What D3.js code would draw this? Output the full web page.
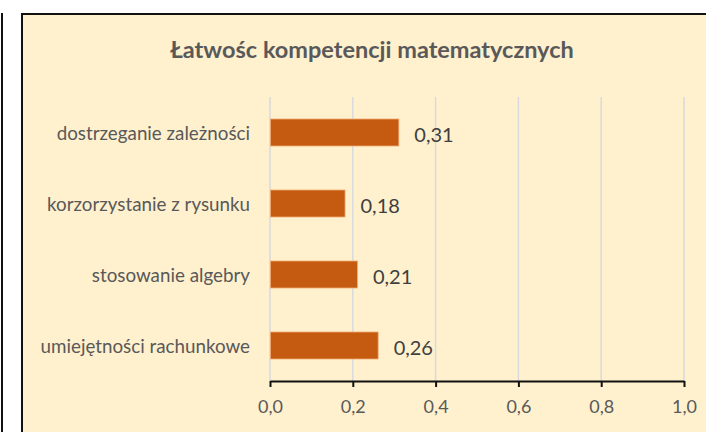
<!DOCTYPE html>
<html>
<head>
<meta charset="utf-8">
<script src="https://cdn.jsdelivr.net/npm/d3@7"></script>
<style>
  body { margin: 0; background: #fff; }
  svg { display: block; font-family: Lato, "Open Sans", sans-serif; }
</style>
</head>
<body>
<svg width="706" height="432"></svg>
<script>
// dane wykresu
var categories = ["dostrzeganie zależności", "korzorzystanie z rysunku", "stosowanie algebry", "umiejętności rachunkowe"];
var values = [0.31, 0.18, 0.21, 0.26];
var ticks = [0, 0.2, 0.4, 0.6, 0.8, 1.0];
var title = "Łatwośc kompetencji matematycznych";

var svg = d3.select("svg"),
  width = +svg.attr("width"),
  height = +svg.attr("height");

var fmt = function (v) { return d3.format(".1f")(v).replace(".", ","); };
var fmt2 = function (v) { return d3.format(".2f")(v).replace(".", ","); };

// kawałek sąsiedniej ramki po lewej
svg.append("line")
  .attr("x1", 2).attr("x2", 2).attr("y1", 13).attr("y2", height + 2)
  .attr("stroke", "#111").attr("stroke-width", 2);

// ramka wykresu
svg.append("rect")
  .attr("x", 22).attr("y", 14)
  .attr("width", 720).attr("height", 440)
  .attr("fill", "#FFF0CE")
  .attr("stroke", "#111").attr("stroke-width", 2);

svg.append("text")
  .attr("x", 372).attr("y", 58)
  .attr("text-anchor", "middle")
  .style("font-size", "23.5px").style("font-weight", "bold")
  .attr("fill", "#595959")
  .text(title);

var x = d3.scaleLinear().domain([0, 1]).range([270, 684]);
var y = d3.scaleBand().domain(categories).range([97, 381])
  .paddingInner(0.62).paddingOuter(0.31);

// linie siatki
svg.append("g").selectAll("line")
  .data(ticks)
  .enter().append("line")
  .attr("x1", function (d) { return x(d); })
  .attr("x2", function (d) { return x(d); })
  .attr("y1", 97).attr("y2", 381)
  .attr("stroke", "#D9DADF").attr("stroke-width", 1.5);

// słupki
svg.append("g").selectAll("rect")
  .data(values)
  .enter().append("rect")
  .attr("x", x(0) + 0.5)
  .attr("y", function (d, i) { return y(categories[i]); })
  .attr("width", function (d) { return x(d) - x(0); })
  .attr("height", y.bandwidth())
  .attr("fill", "#C55A11")
  .attr("stroke", "#F0A870").attr("stroke-width", 0.8);

// etykiety wartości
svg.append("g").selectAll("text")
  .data(values)
  .enter().append("text")
  .attr("x", function (d) { return x(d) + 16; })
  .attr("y", function (d, i) { return y(categories[i]) + y.bandwidth() / 2 + 9; })
  .style("font-size", "20px")
  .attr("fill", "#404040")
  .text(function (d) { return fmt2(d); });

// etykiety kategorii
svg.append("g").selectAll("text")
  .data(categories)
  .enter().append("text")
  .attr("x", 250)
  .attr("y", function (d) { return y(d) + y.bandwidth() / 2 + 7; })
  .attr("text-anchor", "end")
  .style("font-size", "18.8px")
  .attr("fill", "#595959")
  .text(function (d) { return d; });

// oś X
var axis = svg.append("g")
  .attr("transform", "translate(0,381)")
  .call(d3.axisBottom(x).tickValues(ticks).tickSizeOuter(0).tickSizeInner(6).tickPadding(6).tickFormat(fmt));
axis.select(".domain").attr("stroke", "#111").attr("stroke-width", 2);
axis.selectAll(".tick line").attr("stroke", "#111").attr("stroke-width", 2);
axis.selectAll(".tick text")
  .attr("fill", "#595959")
  .style("font-size", "18px")
  .style("font-family", "Lato, sans-serif")
  .attr("y", 0).attr("dy", null)
  .attr("transform", "translate(0,32)");
</script>
</body>
</html>
